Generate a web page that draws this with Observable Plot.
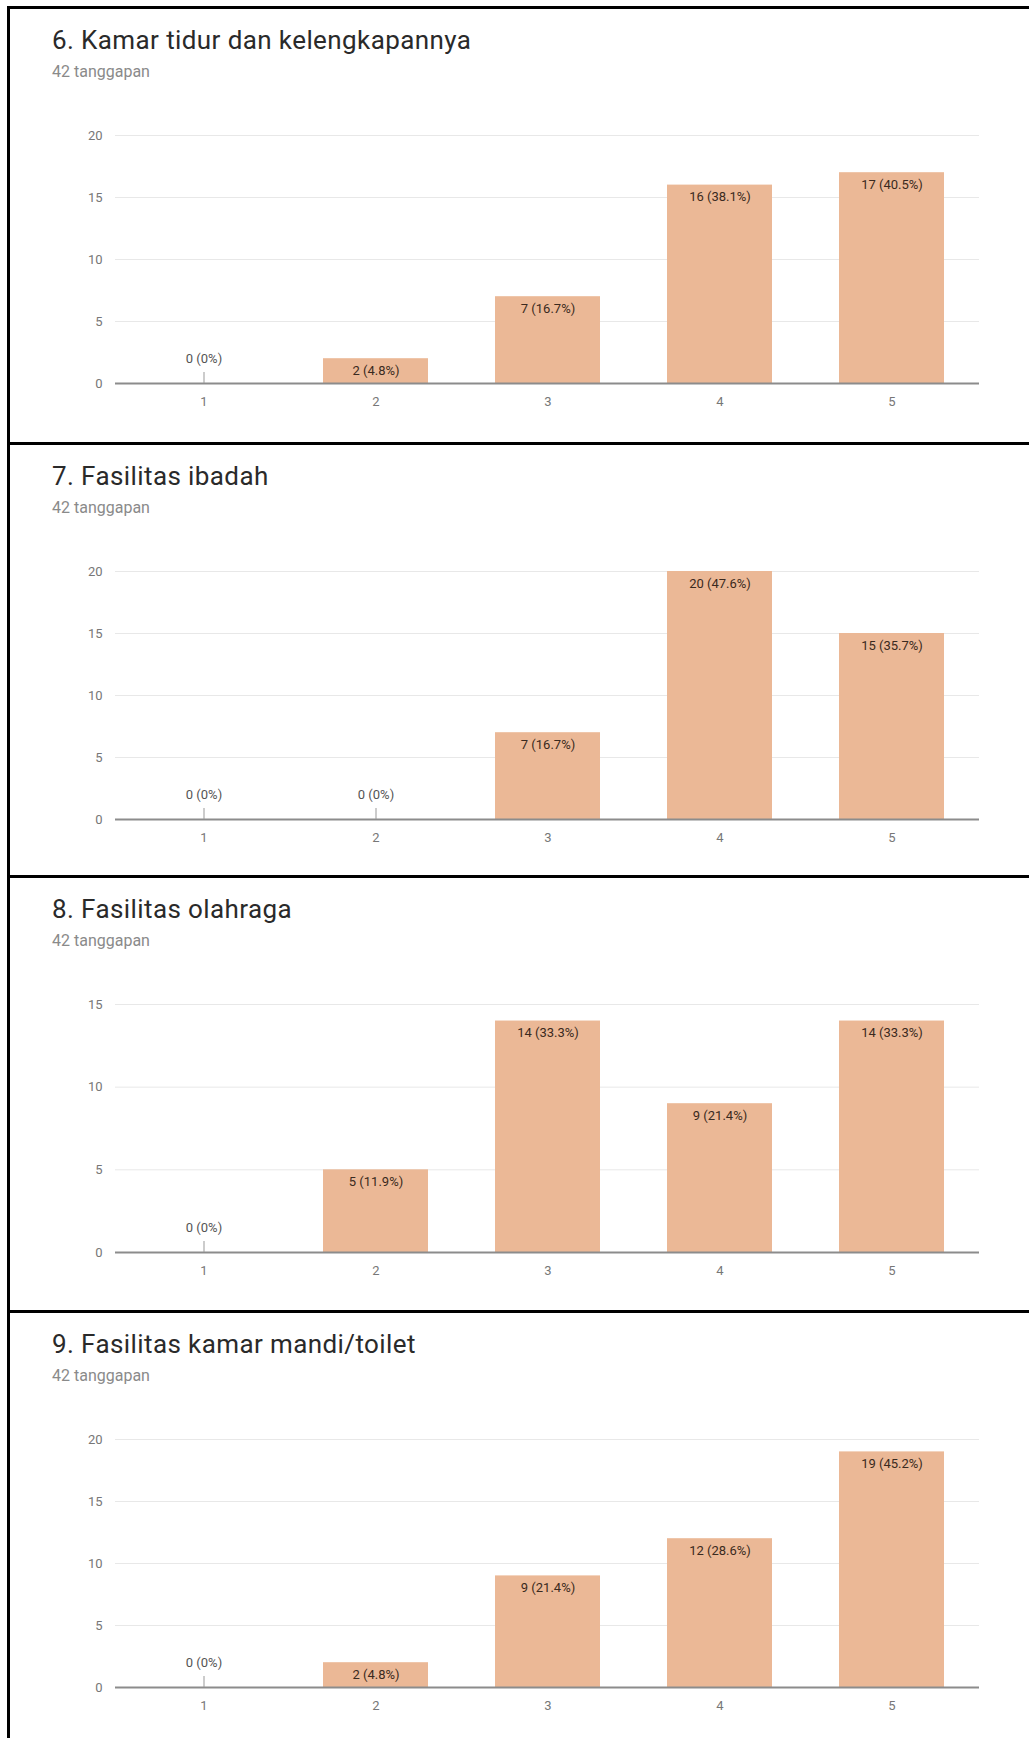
<!DOCTYPE html>
<html>
<head>
<meta charset="utf-8">
<script src="https://cdn.jsdelivr.net/npm/d3@7"></script>
<script src="https://cdn.jsdelivr.net/npm/@observablehq/plot@0.6"></script>
<style>
  html, body { margin: 0; padding: 0; background: #fff; width: 1029px; height: 1738px; overflow: hidden; font-family: Roboto, "Noto Sans", sans-serif; }
  #page { position: relative; width: 1029px; height: 1738px; }
  .frame { position: absolute; left: 7px; width: 1030px; border-top: 3px solid #000; border-left: 3px solid #000; box-sizing: border-box; }
  .title { position: absolute; left: 52px; font-size: 26px; line-height: 26px; color: #2a2a2a; white-space: nowrap; letter-spacing: 0.4px; }
  .sub { position: absolute; left: 52px; font-size: 16px; line-height: 16px; color: #8a8a8a; white-space: nowrap; }
  .chart { position: absolute; left: 0; }
</style>
</head>
<body>
<div id="page"></div>
<script>
// Survey answers, 42 respondents, rating scale 1..5
const total = 42;
const categories = ["1", "2", "3", "4", "5"];
const titles = [
  "6. Kamar tidur dan kelengkapannya",
  "7. Fasilitas ibadah",
  "8. Fasilitas olahraga",
  "9. Fasilitas kamar mandi/toilet"
];
const subtitle = "42 tanggapan";
const counts6 = [0, 2, 7, 16, 17];
const counts7 = [0, 0, 7, 20, 15];
const counts8 = [0, 5, 14, 9, 14];
const counts9 = [0, 2, 9, 12, 19];
const yMax = [20, 20, 15, 20];
const yTicks = [[0, 5, 10, 15, 20], [0, 5, 10, 15, 20], [0, 5, 10, 15], [0, 5, 10, 15, 20]];

const series = [counts6, counts7, counts8, counts9];
const panelTops = [6, 442, 875, 1310];

const barColor = "#ebb896";
const page = document.getElementById("page");

function pct(v) {
  return v === 0 ? "0%" : (v / total * 100).toFixed(1) + "%";
}

series.forEach((counts, i) => {
  const top = panelTops[i];
  const next = i < panelTops.length - 1 ? panelTops[i + 1] : 1750;

  const frame = document.createElement("div");
  frame.className = "frame";
  frame.style.top = top + "px";
  frame.style.height = (next - top + 3) + "px";
  page.appendChild(frame);

  const t = document.createElement("div");
  t.className = "title";
  t.style.top = (top + 21) + "px";
  t.textContent = titles[i];
  page.appendChild(t);

  const s = document.createElement("div");
  s.className = "sub";
  s.style.top = (top + 58) + "px";
  s.textContent = subtitle;
  page.appendChild(s);

  const data = categories.map((c, k) => ({cat: c, value: counts[k], label: `${counts[k]} (${pct(counts[k])})`}));

  const chart = Plot.plot({
    width: 1029,
    height: 300,
    marginTop: 12,
    marginBottom: 40,
    marginLeft: 115,
    marginRight: 50,
    style: {fontFamily: "Roboto, 'Noto Sans', sans-serif", fontSize: "13px", background: "transparent"},
    x: {domain: categories, paddingInner: 0.39, paddingOuter: 0.195, label: null},
    y: {domain: [0, yMax[i]], label: null},
    marks: [
      Plot.gridY(yTicks[i], {stroke: "#e8e8e8", strokeOpacity: 1}),
      Plot.axisY(yTicks[i], {tickSize: 0, tickPadding: 13, fill: "#777", fontSize: 13}),
      Plot.barY(data, {x: "cat", y: "value", fill: barColor}),
      Plot.ruleY([0], {stroke: "#8c8c8c", strokeWidth: 2}),
      Plot.ruleX(data.filter(d => d.value === 0), {x: "cat", y1: 0, y2: 0, insetTop: -11, stroke: "#999"}),
      Plot.axisX({tickSize: 0, tickPadding: 13, fill: "#777", fontSize: 13}),
      Plot.text(data.filter(d => d.value > 0), {x: "cat", y: "value", text: "label", dy: 12, fill: "#3a2a20", fontSize: 13}),
      Plot.text(data.filter(d => d.value === 0), {x: "cat", y: "value", text: "label", dy: -25, fill: "#555", fontSize: 13})
    ]
  });
  chart.classList.add("chart");
  chart.style.top = (top + 117) + "px";
  page.appendChild(chart);
});
</script>
</body>
</html>
